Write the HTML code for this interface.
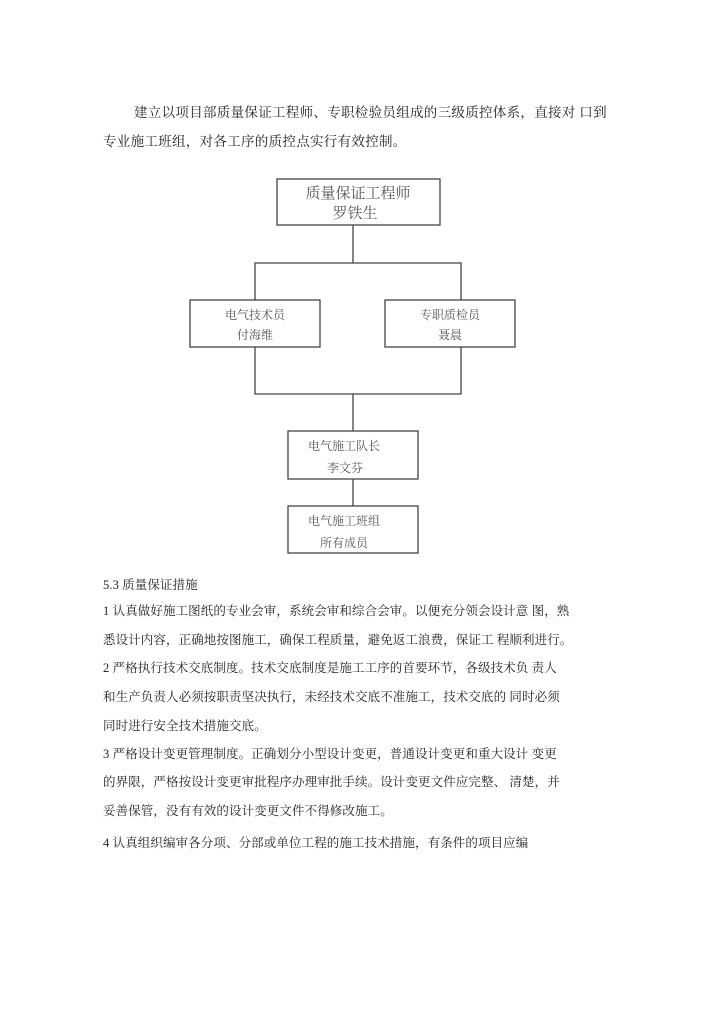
<!DOCTYPE html>
<html><head><meta charset="utf-8"><style>
body{margin:0;background:#fff;}
.p{position:relative;width:720px;height:1018px;overflow:hidden;font-family:"Liberation Serif","Noto Serif CJK SC","Noto Sans CJK SC",serif;color:#222;}
.t{position:absolute;white-space:nowrap;font-size:12.5px;letter-spacing:0.1px;line-height:16px;}
svg text{font-family:"Liberation Serif","Noto Serif CJK SC",serif;}
</style></head><body><div class="p">
<div class="t" style="left:134px;top:105px;font-size:13.5px;letter-spacing:0.3px;">建立以项目部质量保证工程师、专职检验员组成的三级质控体系，直接对 口到</div>
<div class="t" style="left:103px;top:134px;font-size:13.5px;letter-spacing:0.3px;">专业施工班组，对各工序的质控点实行有效控制。</div>
<svg style="position:absolute;left:0;top:0" width="720" height="1018">
<g fill="none" stroke="#444" stroke-width="1.3">
<rect x="277" y="179" width="163" height="46"/>
<rect x="190" y="300" width="130" height="47"/>
<rect x="385" y="300" width="130" height="47"/>
<rect x="288" y="431" width="130" height="48"/>
<rect x="288" y="506" width="130" height="47"/>
<path d="M353 225V263M255 300V263H461V300M255 347V394H461V347M353 394V431M353 479V506"/>
</g>
<g fill="#555" text-anchor="middle">
<text x="358" y="198" font-size="15">质量保证工程师</text>
<text x="355" y="218" font-size="15">罗铁生</text>
<text x="255" y="319" font-size="12">电气技术员</text>
<text x="255" y="339" font-size="12">付海维</text>
<text x="450" y="319" font-size="12">专职质检员</text>
<text x="450" y="339" font-size="12">聂晨</text>
<text x="344" y="450" font-size="12">电气施工队长</text>
<text x="345" y="472" font-size="12">李文芬</text>
<text x="344" y="525" font-size="12">电气施工班组</text>
<text x="344" y="547" font-size="12">所有成员</text>
</g></svg>
<div class="t" style="left:103px;top:577px;">5.3 质量保证措施</div>
<div class="t" style="left:103px;top:603px;">1 认真做好施工图纸的专业会审，系统会审和综合会审。以便充分领会设计意 图，熟</div>
<div class="t" style="left:103px;top:632px;">悉设计内容，正确地按图施工，确保工程质量，避免返工浪费，保证工 程顺利进行。</div>
<div class="t" style="left:103px;top:660px;">2 严格执行技术交底制度。技术交底制度是施工工序的首要环节，各级技术负 责人</div>
<div class="t" style="left:103px;top:689px;">和生产负责人必须按职责坚决执行，未经技术交底不准施工，技术交底的 同时必须</div>
<div class="t" style="left:103px;top:718px;">同时进行安全技术措施交底。</div>
<div class="t" style="left:103px;top:746px;">3 严格设计变更管理制度。正确划分小型设计变更，普通设计变更和重大设计 变更</div>
<div class="t" style="left:103px;top:774px;">的界限，严格按设计变更审批程序办理审批手续。设计变更文件应完整、 清楚，并</div>
<div class="t" style="left:103px;top:803px;">妥善保管，没有有效的设计变更文件不得修改施工。</div>
<div class="t" style="left:103px;top:835px;">4 认真组织编审各分项、分部或单位工程的施工技术措施，有条件的项目应编</div>
</div></body></html>
